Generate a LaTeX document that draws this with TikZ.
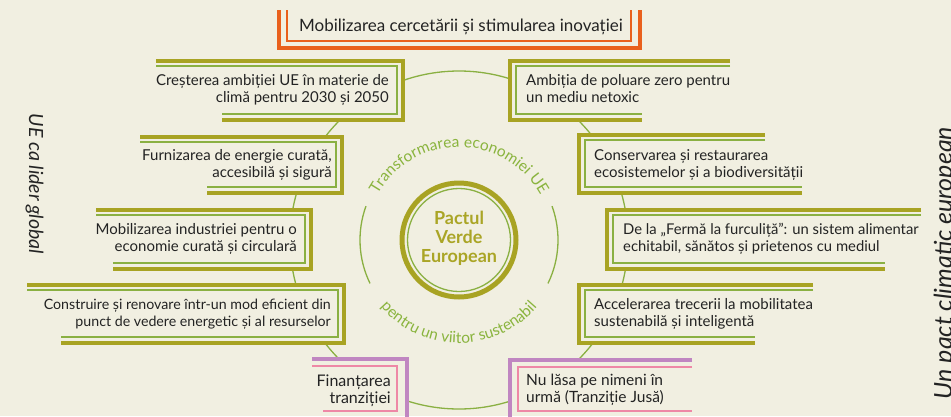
\documentclass[tikz,border=0pt]{standalone}
\usepackage{fontspec}
\setmainfont{Lato}
\usetikzlibrary{decorations.text}
\definecolor{bg}{RGB}{241,239,225}
\definecolor{olive}{RGB}{168,163,35}
\definecolor{thingreen}{RGB}{138,176,66}
\definecolor{orangeA}{RGB}{233,96,28}
\definecolor{purpleA}{RGB}{192,134,193}
\definecolor{pinkA}{RGB}{238,136,166}
\definecolor{ringtext}{RGB}{138,180,62}
\definecolor{txt}{RGB}{35,35,35}
\definecolor{pactcol}{RGB}{170,165,38}
\tikzset{
  thickln/.style={line width=4.5pt},
  thinln/.style={line width=1.4pt},
  boxtext/.style={text=txt, font=\fontsize{15}{17}\selectfont, inner sep=0pt},
  sidetext/.style={text=txt, inner sep=0pt},
  ringln/.style={line width=1.3pt, draw=thingreen},
}
\newcommand\LBox[5]{%
  \fill[bg] ({min(#1,#2)},#4) rectangle (#3,#5);
  \draw[thickln,olive] (#1,#4) -- (#3,#4) -- (#3,#5) -- (#2,#5);
  \draw[thinln,thingreen] (#1,#4+5) -- (#3-6,#4+5) -- (#3-6,#5-6) -- (#2,#5-6);
}
\newcommand\RBox[5]{%
  \fill[bg] (#1,#4) rectangle ({max(#2,#3)},#5);
  \draw[thickln,olive] (#2,#4) -- (#1,#4) -- (#1,#5) -- (#3,#5);
  \draw[thinln,thingreen] (#2,#4+5) -- (#1+6,#4+5) -- (#1+6,#5-6) -- (#3,#5-6);
}
\begin{document}
\begin{tikzpicture}[x=1pt,y=-1pt]
\useasboundingbox (0,0) rectangle (951,416);
\fill[bg] (0,0) rectangle (951,416);
\coordinate (c) at (459,240);
% big circle
\draw[ringln] (c) circle[radius=169];
% top box
\fill[bg] (279,0) rectangle (640,48);
\draw[thickln,orangeA] (279,10) -- (279,48) -- (640,48) -- (640,10);
\draw[thinln,orangeA] (287,10) -- (287,41) -- (631,41) -- (631,10);
\node[boxtext, font=\fontsize{17}{19}\selectfont] (top) at (461,27) {Mobilizarea cercetării și stimularea inovației};
% left boxes
\LBox{156}{222}{403}{61}{120}
\LBox{140}{207}{342}{137}{193}
\LBox{96}{113}{311}{210}{269}
\LBox{27}{61}{344}{285}{343}
% right boxes
\RBox{510}{730}{642}{61}{120}
\RBox{579}{765}{802}{135}{193}
\RBox{607}{921}{885}{210}{269}
\RBox{579}{813}{755}{285}{343}
% bottom purple boxes
\fill[bg] (312,359) rectangle (407,416);
\draw[thickln,purpleA] (312,359) -- (407,359) -- (407,420);
\draw[thinln,pinkA] (312,366) -- (397,366) -- (397,411) -- (323,411);
\fill[bg] (510,360) rectangle (692,416);
\draw[thickln,purpleA] (692,360) -- (510,360) -- (510,420);
\draw[thinln,pinkA] (692,367) -- (518,367) -- (518,411) -- (692,411);
% texts
\node[boxtext, align=right, anchor=east] (b1) at (389,90) {Creșterea ambiției UE în materie de\\climă pentru 2030 și 2050};
\node[boxtext, align=right, anchor=east] (b2) at (332,165) {Furnizarea de energie curată,\\accesibilă și sigură};
\node[boxtext, align=right, anchor=east] (b3) at (297,239) {Mobilizarea industriei pentru o\\economie curată și circulară};
\node[boxtext, align=right, anchor=east, font=\fontsize{14.2}{17}\selectfont] (b4) at (331,314) {Construire și renovare într-un mod eficient din\\punct de vedere energetic și al resurselor};
\node[boxtext, align=right, anchor=east, font=\fontsize{16}{17}\selectfont] (b5) at (391,391) {Finanțarea\\tranziției};
\node[boxtext, align=left, anchor=west, font=\fontsize{15.5}{17}\selectfont] (b6) at (526,390) {Nu lăsa pe nimeni în\\urmă (Tranziție Jusă)};
\node[boxtext, align=left, anchor=west] (b7) at (526,89) {Ambiția de poluare zero pentru\\un mediu netoxic};
\node[boxtext, align=left, anchor=west] (b8) at (594,165) {Conservarea și restaurarea\\ecosistemelor și a biodiversității};
\node[boxtext, align=left, anchor=west, font=\fontsize{14.8}{17}\selectfont] (b9) at (623,239) {De la „Fermă la furculiță”: un sistem alimentar\\echitabil, sănătos și prietenos cu mediul};
\node[boxtext, align=left, anchor=west] (b10) at (594,314) {Accelerarea trecerii la mobilitatea\\sustenabilă și inteligentă};
% side texts
\node[sidetext, rotate=-90, anchor=base, font=\itshape\fontsize{19.5}{24}\selectfont] (lt) at (29,184) {UE ca lider global};
\node[sidetext, rotate=90, anchor=base, font=\itshape\fontsize{25}{30}\selectfont] (rt) at (952,263) {Un pact climatic european};
% ring
\draw[ringln] (c) ++(154:99) arc[start angle=154, end angle=200, radius=99];
\draw[ringln] (c) ++(-20:99) arc[start angle=-20, end angle=26, radius=99];
\path[decorate, decoration={text along path, text align=center,
  text={|\color{ringtext}\fontsize{15.5}{16}\selectfont|Transformarea economiei UE}}]
  (c) ++(200:93) arc[start angle=200, end angle=340, radius=93];
\path[decorate, decoration={text along path, text align=center,
  text={|\color{ringtext}\fontsize{15.5}{16}\selectfont|pentru un viitor sustenabil}}]
  (c) ++(154:103) arc[start angle=154, end angle=26, radius=103];
% centre
\draw[line width=5pt, olive] (c) circle[radius=57];
\draw[line width=1.3pt, thingreen] (c) circle[radius=51.5];
\node[text=pactcol, align=center, font=\bfseries\fontsize{18}{19}\selectfont, inner sep=0pt] (pact) at (459,238) {Pactul\\Verde\\European};
\end{tikzpicture}
\end{document}
